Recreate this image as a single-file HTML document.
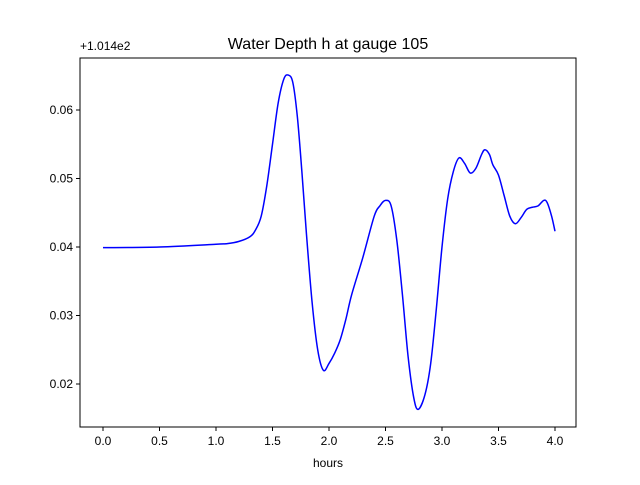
<!DOCTYPE html>
<html><head><meta charset="utf-8"><style>
body{margin:0;background:#fff;font-family:"Liberation Sans","DejaVu Sans",sans-serif}
</style></head><body>
<svg width="640" height="480" xmlns="http://www.w3.org/2000/svg">
<rect width="640" height="480" fill="#fff"/>
<text x="328" y="49" text-anchor="middle" font-size="16">Water Depth h at gauge 105</text>
<text x="80" y="50" font-size="12">+1.014e2</text>
<g id="xt"></g>
<g id="yt"></g>
<path id="ln" fill="none" stroke="#0000ff" stroke-width="1.5"/>
<rect x="80" y="58" width="496" height="369" fill="none" stroke="#000" stroke-width="1"/>
<text x="328" y="467" text-anchor="middle" font-size="12">hours</text>
</svg>
<script>
const times=[0,0.5,1.0,1.1,1.2,1.3,1.35,1.4,1.45,1.5,1.55,1.6,1.64,1.68,1.72,1.76,1.8,1.85,1.9,1.95,2.0,2.05,2.1,2.15,2.2,2.3,2.4,2.45,2.5,2.55,2.6,2.65,2.7,2.75,2.79,2.85,2.9,2.95,3.0,3.05,3.1,3.15,3.2,3.25,3.3,3.35,3.38,3.42,3.45,3.5,3.55,3.6,3.65,3.7,3.75,3.8,3.85,3.9,3.93,3.97,4.0];
const depths=[0.0399,0.0400,0.0404,0.0405,0.0408,0.0415,0.0425,0.0445,0.0490,0.0550,0.0610,0.0645,0.0651,0.0640,0.0590,0.0510,0.0420,0.0320,0.0250,0.0220,0.0230,0.0245,0.0265,0.0295,0.0330,0.0385,0.0445,0.0460,0.0468,0.0460,0.0410,0.0330,0.0240,0.0180,0.0163,0.0185,0.0230,0.0310,0.0400,0.0470,0.0510,0.0530,0.0522,0.0508,0.0515,0.0535,0.0542,0.0535,0.0520,0.0505,0.0475,0.0445,0.0434,0.0443,0.0455,0.0458,0.0460,0.0468,0.0465,0.0445,0.0423];
const xTicks=[0,0.5,1.0,1.5,2.0,2.5,3.0,3.5,4.0];
const yTicks=[0.02,0.03,0.04,0.05,0.06];
const NS="http://www.w3.org/2000/svg";
const xs=t=>103+t*113;
const ys=v=>247-(v-0.04)*6850;
const xt=document.getElementById('xt'),yt=document.getElementById('yt');
function mk(tag,a,p){const e=document.createElementNS(NS,tag);for(const k in a)e.setAttribute(k,a[k]);p.appendChild(e);return e;}
xTicks.forEach(t=>{const x=xs(t);
 const l=mk('line',{x1:x,x2:x,y1:427,y2:431,stroke:'#000'},xt);
 
 
 const s=mk('text',{x:x,y:445,'text-anchor':'middle','font-size':12},xt);s.textContent=t.toFixed(1);
 
 
});
yTicks.forEach(v=>{const y=ys(v);
 const l=mk('line',{x1:76,x2:80,y1:y,y2:y,stroke:'#000'},yt);
 
 
 const s=mk('text',{x:73,y:y+4,'text-anchor':'end','font-size':12},yt);s.textContent=v.toFixed(2);
 
 
});
const P=times.map((t,i)=>[xs(t),ys(depths[i])]);
let d='M'+P[0][0]+','+P[0][1];
for(let i=0;i<P.length-1;i++){const p0=P[Math.max(0,i-1)],p1=P[i],p2=P[i+1],p3=P[Math.min(P.length-1,i+2)];
 const c1=[p1[0]+(p2[0]-p0[0])/6,p1[1]+(p2[1]-p0[1])/6],c2=[p2[0]-(p3[0]-p1[0])/6,p2[1]-(p3[1]-p1[1])/6];
 d+=` C${c1[0]},${c1[1]} ${c2[0]},${c2[1]} ${p2[0]},${p2[1]}`;}
document.getElementById('ln').setAttribute('d',d);
</script>
</body></html>
